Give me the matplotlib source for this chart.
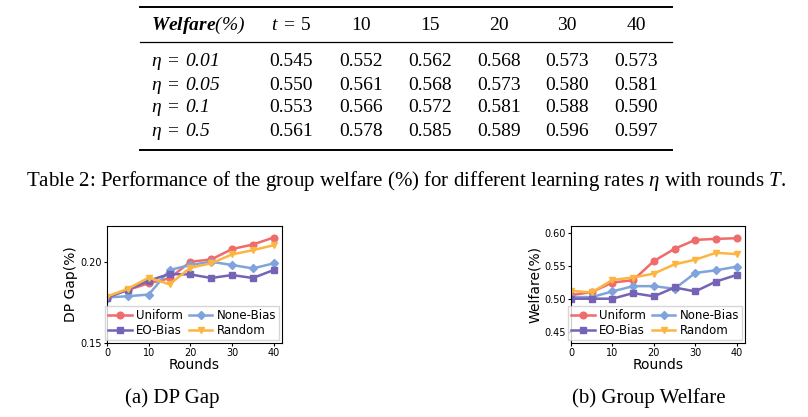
import matplotlib
matplotlib.use('Agg')
import matplotlib.pyplot as plt
from matplotlib.lines import Line2D

# table data
etas = ['0.01', '0.05', '0.1', '0.5']
table_rounds = ['5', '10', '15', '20', '30', '40']
table_vals = [
    ['0.545', '0.552', '0.562', '0.568', '0.573', '0.573'],
    ['0.550', '0.561', '0.568', '0.573', '0.580', '0.581'],
    ['0.553', '0.566', '0.572', '0.581', '0.588', '0.590'],
    ['0.561', '0.578', '0.585', '0.589', '0.596', '0.597'],
]

# line chart data
rounds = [0, 5, 10, 15, 20, 25, 30, 35, 40]
methods = ['Uniform', 'None-Bias', 'EO-Bias', 'Random']
dp_gap = {
    'Uniform':   [0.178, 0.1827, 0.1867, 0.1898, 0.200, 0.2014, 0.2078, 0.2106, 0.2149],
    'None-Bias': [0.178, 0.1788, 0.1798, 0.1949, 0.198, 0.200, 0.198, 0.1959, 0.199],
    'EO-Bias':   [0.178, 0.1827, 0.1884, 0.1924, 0.1922, 0.190, 0.1918, 0.190, 0.1949],
    'Random':    [0.1786, 0.1833, 0.1902, 0.1861, 0.1963, 0.199, 0.2045, 0.2071, 0.2102],
}
welfare = {
    'Uniform':   [0.5055, 0.510, 0.5245, 0.528, 0.557, 0.5755, 0.589, 0.5905, 0.5915],
    'None-Bias': [0.5025, 0.5025, 0.511, 0.519, 0.519, 0.515, 0.539, 0.543, 0.5485],
    'EO-Bias':   [0.500, 0.500, 0.500, 0.5085, 0.5035, 0.517, 0.511, 0.526, 0.536],
    'Random':    [0.512, 0.5095, 0.5285, 0.532, 0.538, 0.552, 0.559, 0.5695, 0.5675],
}
colors = {'Uniform': '#F06B6B', 'None-Bias': '#7FA4DC', 'EO-Bias': '#7563B5', 'Random': '#FDB542'}
markers = {'Uniform': 'o', 'None-Bias': 'D', 'EO-Bias': 's', 'Random': 'v'}
legend_order = ['Uniform', 'EO-Bias', 'None-Bias', 'Random']

plt.rcParams['mathtext.fontset'] = 'custom'
plt.rcParams['mathtext.rm'] = 'Liberation Serif'
plt.rcParams['mathtext.it'] = 'Liberation Serif:italic'
plt.rcParams['mathtext.sf'] = 'Liberation Serif:italic'
plt.rcParams['mathtext.bf'] = 'Liberation Serif:bold:italic'

W, H = 808, 417
fig = plt.figure(figsize=(W / 100, H / 100), dpi=100)


def fx(x):
    return x / W


def fy(y):
    return 1 - y / H


serif = 'Liberation Serif'
tsize = 14

# table rules
for y, lw in [(7, 1.4), (42, 0.9), (150, 1.4)]:
    fig.add_artist(Line2D([fx(140), fx(672)], [fy(y), fy(y)], color='black', lw=lw,
                          transform=fig.transFigure))

col_x = [291, 361, 430, 499, 567, 636]
fig.text(fx(151), fy(25), r'$\mathbf{Welfare}\mathsf{(\%)}$', fontsize=tsize,
         ha='left', va='center')
for i, r in enumerate(table_rounds):
    lab = r'$t\;=\;5$' if i == 0 else r
    fig.text(fx(col_x[i]), fy(25), lab, family=serif, fontsize=tsize, ha='center', va='center')

row_y = [61, 85, 108, 132]
for j, eta in enumerate(etas):
    fig.text(fx(151), fy(row_y[j]), r'$\eta\;=\;\mathsf{' + eta + '}$', fontsize=tsize,
             ha='left', va='center')
    for i, v in enumerate(table_vals[j]):
        fig.text(fx(col_x[i]), fy(row_y[j]), v, family=serif, fontsize=tsize,
                 ha='center', va='center')

fig.text(fx(406), fy(181),
         r'Table 2: Performance of the group welfare (%) for different learning rates $\eta$ with rounds $T$.',
         family=serif, fontsize=15, ha='center', va='center')


def draw(ax, data, ylabel, ylim, yticks):
    lines = {}
    for m in methods:
        lines[m], = ax.plot(rounds, data[m], color=colors[m], marker=markers[m], lw=1.8,
                            markersize=4.8 if m != 'None-Bias' else 4.2, label=m)
    ax.set_xlim(0, 42)
    ax.set_ylim(*ylim)
    ax.set_yticks(yticks)
    ax.set_xticks([0, 10, 20, 30, 40])
    ax.tick_params(labelsize=7, length=2.5, width=0.8, pad=1)
    ax.set_xlabel('Rounds', fontsize=10, labelpad=0)
    ax.set_ylabel(ylabel, fontsize=10, labelpad=2)
    for s in ax.spines.values():
        s.set_linewidth(0.8)
    ax.legend([lines[m] for m in legend_order], legend_order, loc='lower right', ncol=2,
              fontsize=8.5, handlelength=2.0, columnspacing=0.5, handletextpad=0.35,
              labelspacing=0.2, borderpad=0.25, borderaxespad=0.25, frameon=True,
              fancybox=False, edgecolor='#cccccc')


ax1 = fig.add_axes([fx(107), fy(343), (282 - 107) / W, (343 - 226) / H])
draw(ax1, dp_gap, 'DP Gap(%)', (0.15, 0.222), [0.15, 0.20])
ax1.set_yticklabels(['0.15', '0.20'])

ax2 = fig.add_axes([fx(571), fy(343), (745 - 571) / W, (343 - 226) / H])
draw(ax2, welfare, 'Welfare(%)', (0.433, 0.61), [0.45, 0.50, 0.55, 0.60])
ax2.set_yticklabels(['0.45', '0.50', '0.55', '0.60'])

fig.text(fx(172), fy(398), '(a) DP Gap', family=serif, fontsize=15, ha='center', va='center')
fig.text(fx(649), fy(398), '(b) Group Welfare', family=serif, fontsize=15, ha='center', va='center')

fig.savefig('out.png', dpi=100)
